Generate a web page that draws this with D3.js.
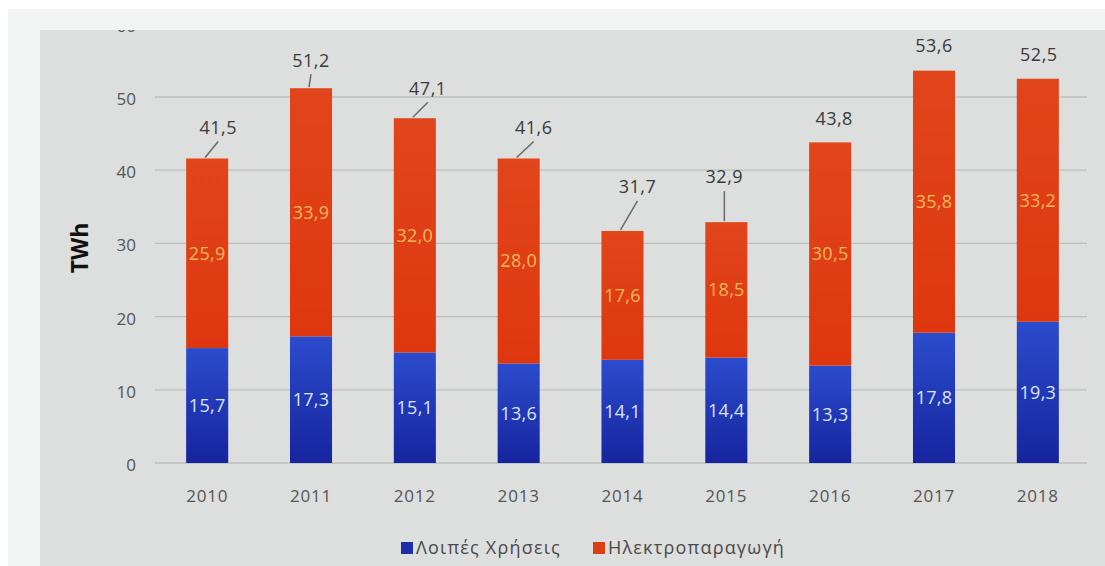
<!DOCTYPE html>
<html>
<head>
<meta charset="utf-8">
<script src="https://cdn.jsdelivr.net/npm/d3@7"></script>
<style>
  html, body { margin: 0; padding: 0; background: #ffffff; }
  svg { display: block; }
  text { font-family: "Open Sans", "Noto Sans", sans-serif; }
</style>
</head>
<body>
<svg id="chart" width="1105" height="566"></svg>
<script>
// ---- data ----
const years = ["2010","2011","2012","2013","2014","2015","2016","2017","2018"];
const otherUses = [15.7, 17.3, 15.1, 13.6, 14.1, 14.4, 13.3, 17.8, 19.3];      // Λοιπές Χρήσεις
const powerGen  = [25.9, 33.9, 32.0, 28.0, 17.6, 18.5, 30.5, 35.8, 33.2];      // Ηλεκτροπαραγωγή
const totals    = [41.5, 51.2, 47.1, 41.6, 31.7, 32.9, 43.8, 53.6, 52.5];
const yTicks    = [0, 10, 20, 30, 40, 50, 60];
const seriesNames = ["Λοιπές Χρήσεις", "Ηλεκτροπαραγωγή"];
const yTitle = "TWh";

// ---- layout (label placement of totals, pixels: dx, dy from bar top centre; line flag) ----
const totalLabelLayout = [
  {dx: 11, dy: -31, line: true},
  {dx: 0,  dy: -28, line: true},
  {dx: 13, dy: -30, line: true},
  {dx: 15, dy: -31, line: true},
  {dx: 15, dy: -44, line: true},
  {dx: -2, dy: -45, line: true},
  {dx: 4,  dy: -24, line: false},
  {dx: 0,  dy: -25, line: false},
  {dx: 1,  dy: -24, line: false}
];

const fmt = v => d3.format(".1f")(v).replace(".", ",");

const svg = d3.select("#chart");
const W = 1105, H = 566;

// backgrounds
svg.append("rect").attr("x", 8).attr("y", 9).attr("width", W - 8).attr("height", H - 9).attr("fill", "#f2f3f3");
svg.append("rect").attr("x", 40).attr("y", 30).attr("width", W - 40).attr("height", H - 30).attr("fill", "#dddede");

const defs = svg.append("defs");
defs.append("clipPath").attr("id", "panelClip")
  .append("rect").attr("x", 40).attr("y", 30).attr("width", W - 40).attr("height", H - 30);
const gBlue = defs.append("linearGradient").attr("id", "gradBlue").attr("x1", 0).attr("y1", 0).attr("x2", 0).attr("y2", 1);
gBlue.append("stop").attr("offset", "0%").attr("stop-color", "#2b4ccd");
gBlue.append("stop").attr("offset", "100%").attr("stop-color", "#16249e");
const gOr = defs.append("linearGradient").attr("id", "gradOrange").attr("x1", 0).attr("y1", 0).attr("x2", 0).attr("y2", 1);
gOr.append("stop").attr("offset", "0%").attr("stop-color", "#e1451b");
gOr.append("stop").attr("offset", "100%").attr("stop-color", "#de3710");

const root = svg.append("g").attr("clip-path", "url(#panelClip)");

const x = d3.scaleBand().domain(years).range([155, 1090]).paddingInner(0.595).paddingOuter(0.3);
const y = d3.scaleLinear().domain([0, 50]).range([463, 97]);

// gridlines
root.append("g").selectAll("line").data(yTicks).join("line")
  .attr("x1", 155).attr("x2", 1087)
  .attr("y1", d => y(d)).attr("y2", d => y(d))
  .attr("stroke", "#bdbebe").attr("stroke-width", 1.3);

// y axis labels
const yAxis = d3.axisLeft(y).tickValues(yTicks).tickSize(0).tickPadding(0).tickFormat(d3.format("d"));
const yg = root.append("g").attr("transform", "translate(136,2)").call(yAxis);
yg.select(".domain").remove();
yg.selectAll("text").attr("font-size", 17).attr("fill", "#555").attr("font-family", "'Open Sans', sans-serif");

// x axis labels
const xAxis = d3.axisBottom(x).tickSize(0).tickPadding(0);
const xg = root.append("g").attr("transform", "translate(0,490)").call(xAxis);
xg.select(".domain").remove();
xg.selectAll("text").attr("font-size", 17).attr("letter-spacing", 0.8).attr("fill", "#555").attr("font-family", "'Open Sans', sans-serif");

// stacked data
const rows = years.map((yr, i) => ({year: yr, a: otherUses[i], b: powerGen[i], total: totals[i], i}));
const stack = d3.stack().keys(["a", "b"]);
const stacked = stack(rows);
const fills = ["url(#gradBlue)", "url(#gradOrange)"];
const labelColors = ["#dbe3ff", "#f6b85a"];

stacked.forEach((layer, li) => {
  root.append("g").selectAll("rect").data(layer).join("rect")
    .attr("x", d => x(d.data.year))
    .attr("width", x.bandwidth())
    .attr("y", d => y(d[1]))
    .attr("height", d => y(d[0]) - y(d[1]))
    .attr("fill", fills[li]);
  root.append("g").selectAll("text").data(layer).join("text")
    .attr("x", d => x(d.data.year) + x.bandwidth() / 2)
    .attr("y", d => (y(d[0]) + y(d[1])) / 2)
    .attr("dy", "0.35em")
    .attr("text-anchor", "middle")
    .attr("font-size", 18)
    .attr("letter-spacing", 0.3)
    .attr("fill", labelColors[li])
    .text(d => fmt(li === 0 ? d.data.a : d.data.b));
});

// total labels with leader lines
const tg = root.append("g");
rows.forEach((r, i) => {
  const cx = x(r.year) + x.bandwidth() / 2;
  const top = y(r.a + r.b);
  const L = totalLabelLayout[i];
  const lx = cx + L.dx, ly = top + L.dy;
  if (L.line) {
    tg.append("line")
      .attr("x1", cx - 2).attr("y1", top - 1)
      .attr("x2", lx).attr("y2", ly + 14)
      .attr("stroke", "#6a6a6a").attr("stroke-width", 1.5);
  }
  tg.append("text")
    .attr("x", lx).attr("y", ly)
    .attr("dy", "0.35em")
    .attr("text-anchor", "middle")
    .attr("font-size", 18)
    .attr("letter-spacing", 0.5)
    .attr("fill", "#3a3a3a")
    .text(fmt(r.total));
});

// y title
root.append("text")
  .attr("transform", "translate(88,248) rotate(-90)")
  .attr("text-anchor", "middle")
  .attr("font-size", 23)
  .attr("font-weight", "bold")
  .attr("fill", "#111")
  .attr("font-family", "'Open Sans', sans-serif")
  .text(yTitle);

// legend
const legendColors = ["#1c2fa8", "#dc3e16"];
const legendX = [401, 593];
const lg = root.append("g");
seriesNames.forEach((name, i) => {
  lg.append("rect").attr("x", legendX[i]).attr("y", 542).attr("width", 12).attr("height", 12).attr("fill", legendColors[i]);
  lg.append("text").attr("x", legendX[i] + 15).attr("y", 548).attr("dy", "0.35em")
    .attr("font-size", 18).attr("letter-spacing", 1.2).attr("fill", "#4a4a4a").text(name);
});
</script>
</body>
</html>
